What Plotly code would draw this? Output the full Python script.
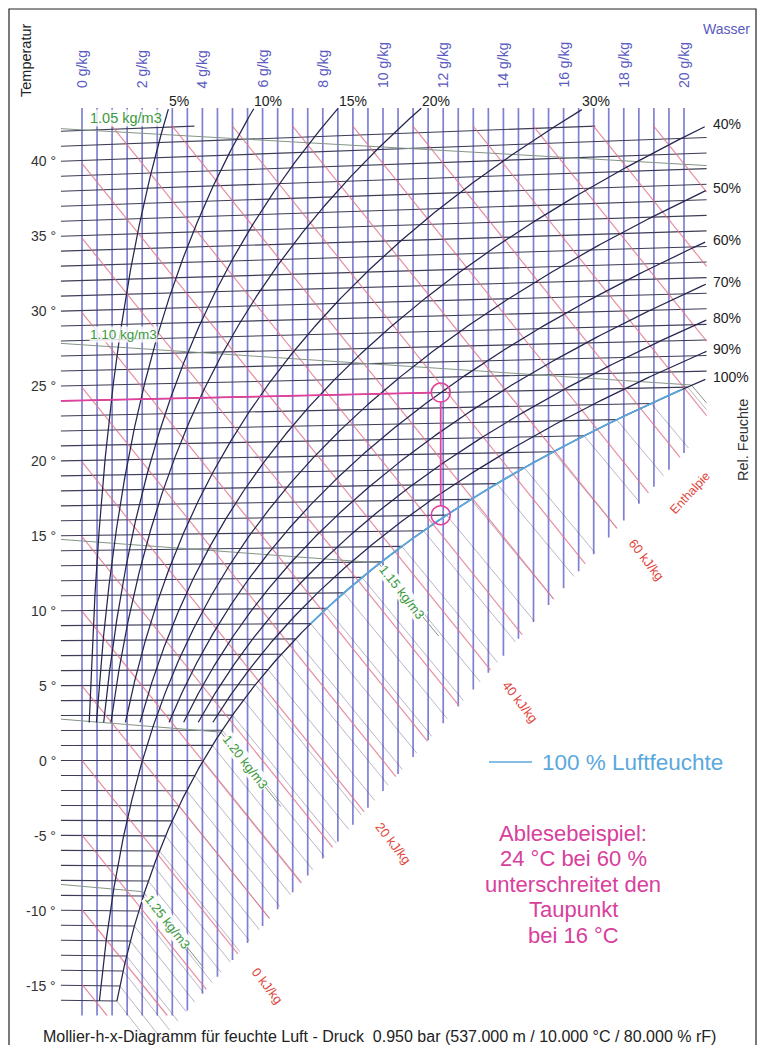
import numpy as np
import plotly.graph_objects as go

# ---- chart definition -------------------------------------------------
P_AIR = 95000.0          # Pa  (0.950 bar)
R_AIR = 287.05

temps_iso = list(range(-16, 43))                  # isotherms, 1 K steps
x_lines = [i * 0.5 for i in range(0, 41)]         # water content lines, g/kg
rh_levels = [5, 10, 15, 20, 30, 40, 50, 60, 70, 80, 90, 100]
rh_full_range = [50, 100]                         # curves drawn down to the bottom
RH_T_MIN = 2.5                                    # other curves stop here, °C
rh_top_labels = [5, 10, 15, 20, 30]
rh_side_labels = [40, 50, 60, 70, 80, 90, 100]
h_levels = list(range(-15, 100, 5))               # kJ/kg
h_labels = [0, 20, 40, 60]
rho_levels = [1.05, 1.10, 1.15, 1.20, 1.25]       # kg/m3
x_ticks = [0, 2, 4, 6, 8, 10, 12, 14, 16, 18, 20]
t_ticks = [40, 35, 30, 25, 20, 15, 10, 5, 0, -5, -10, -15]

X_LEFT, X_RIGHT = -0.7, 20.75     # extent of the line grid, g/kg
Y_TOP = 43.5                       # upper edge of x-lines and rh curves
Y_LINES_TOP = 42.32                # isotherms / isenthalps are cut here
Y_BOTTOM = -17.0
# lower edge of the x-lines and isenthalps inside the fog region
fog_edge_x = [4.02, 20.03]
fog_edge_y = [-15.5, 20.57]
FOG_RHO_LEN = 2.0                  # fog part of the density lines, g/kg
SAT_BLUE_FROM = 9.0                # °C, start of the highlighted 100 % line

example_t, example_rh, dew_t = 24, 60, 16
example_lines = ["Ablesebeispiel:", "24 °C bei 60 %", "unterschreitet den",
                 "Taupunkt", "bei 16 °C"]

# ---- moist air relations (x in g/kg, t in °C, h in kJ/kg) --------------
def p_sat(t):
    t = np.asarray(t, dtype=float)
    return 611.2 * np.exp(17.62 * t / (243.12 + t))

def x_of(t, rh):
    pv = rh / 100.0 * p_sat(t)
    return 622.0 * pv / (P_AIR - pv)

def chart_y(x, t):
    """Mollier ordinate (h - r0*x)/cp_air: the 0 °C isotherm is horizontal."""
    return np.asarray(t) * (1 + 0.00186 * np.asarray(x) / 1.005)

def y_of_h(h, x):
    return (h - 2.501 * np.asarray(x)) / 1.005

def t_of_rho(rho, x):
    xk = np.asarray(x) / 1000.0
    return P_AIR * (1 + xk) / (rho * R_AIR * (1 + 1.608 * xk)) - 273.15

def fog_slope(t):
    return (0.00419 * t - 2.501) / 1.005

edge_m = (fog_edge_y[1] - fog_edge_y[0]) / (fog_edge_x[1] - fog_edge_x[0])

def fog_edge(x):
    return fog_edge_y[0] + edge_m * (np.asarray(x) - fog_edge_x[0])

def meet_edge(x0, y0, m):
    b = fog_edge_y[0] - edge_m * fog_edge_x[0]
    return (y0 - m * x0 - b) / (edge_m - m)

# ---- figure -------------------------------------------------------------
W, H = 758, 1045
px_per_x, px_per_y = 30.1, 15.0
x0_px, y40_px = 82.0, 160.5
x_range = [-x0_px / px_per_x, (W - x0_px) / px_per_x]
y_range = [40 - (H - y40_px) / px_per_y, 40 + y40_px / px_per_y]

def py(pix):       # chart y of a pixel row
    return 40 - (pix - y40_px) / px_per_y

def px(pix):       # chart x of a pixel column
    return (pix - x0_px) / px_per_x

fig = go.Figure()

def add_line(xs, ys, color, width):
    fig.add_trace(go.Scatter(x=list(np.atleast_1d(xs)), y=list(np.atleast_1d(ys)),
                             mode="lines", line=dict(color=color, width=width),
                             hoverinfo="skip", showlegend=False))

C_X = "rgba(100,100,200,0.82)"
C_T = "#3c3c56"
C_FOG = "rgba(80,60,100,0.38)"
C_RH = "#262650"
C_H = "rgba(225,115,135,0.8)"
C_RHO = "#849484"
C_SAT = "#5aa8dc"
C_EX = "#e2409c"
C_GREEN = "#3c9a3c"
C_RED = "#e2463c"
C_BLUE = "#5a5ac0"

# water content lines
for xv in x_lines:
    yb = max(Y_BOTTOM, float(fog_edge(xv)))
    add_line([xv, xv], [Y_TOP, yb], C_X, 1.7)

# isotherms up to saturation, then on as fog isotherms
for t in temps_iso:
    xs_sat = float(x_of(t, 100))
    xe = min(xs_sat, X_RIGHT)
    xx = np.linspace(X_LEFT, xe, 30)
    yy = chart_y(xx, t)
    ok = yy <= Y_LINES_TOP
    add_line(xx[ok], yy[ok], C_T, 1.1)
    if xs_sat < X_RIGHT:
        ys = float(chart_y(xs_sat, t))
        m = fog_slope(t)
        xend = min(meet_edge(xs_sat, ys, m), X_RIGHT)
        if xend > xs_sat:
            add_line([xs_sat, xend], [ys, ys + m * (xend - xs_sat)], C_FOG, 1)

# isenthalps
h_ends = {}
for h in h_levels:
    m = -2.501 / 1.005
    xa = max(0.0, (h - 1.005 * Y_LINES_TOP) / 2.501)
    xb = min(X_RIGHT, meet_edge(0.0, h / 1.005, m))
    yb = float(y_of_h(h, xb))
    if yb < Y_BOTTOM:
        xb = (h - 1.005 * Y_BOTTOM) / 2.501
        yb = Y_BOTTOM
    if xb > xa:
        add_line([xa, xb], [y_of_h(h, xa), yb], C_H, 1.2)
        h_ends[h] = (xb, yb)

# density lines: humid part, then along the fog isotherm
rho_ends = {}
for rho in rho_levels:
    xs = np.linspace(X_LEFT, X_RIGHT, 300)
    ts = t_of_rho(rho, xs)
    unsat = xs <= x_of(ts, 100)
    xu, tu = xs[unsat], ts[unsat]
    add_line(xu, chart_y(xu, tu), C_RHO, 1)
    if unsat.sum() < len(xs):
        xc, tc = float(xu[-1]), float(tu[-1])
        yc = float(chart_y(xc, tc))
        xf = min(xc + FOG_RHO_LEN, X_RIGHT)
        add_line([xc, xf], [yc, yc + fog_slope(tc) * (xf - xc)], C_RHO, 1)
        rho_ends[rho] = (xc, yc, fog_slope(tc))

# relative humidity curves
tt = np.linspace(-16.0, 44.0, 600)
rh_top, rh_right = {}, {}
for rh in rh_levels:
    xs = x_of(tt, rh)
    ys = chart_y(xs, tt)
    ok = (xs <= X_RIGHT) & (ys <= Y_TOP)
    if rh not in rh_full_range:
        ok &= tt >= RH_T_MIN
    add_line(xs[ok], ys[ok], C_RH, 1.25)
    rh_top[rh] = (float(xs[ok][-1]), float(ys[ok][-1]))
    rh_right[rh] = float(ys[ok][-1])

# highlighted saturation line
ts_b = np.linspace(SAT_BLUE_FROM, 26, 120)
xs_b = x_of(ts_b, 100)
ok = xs_b <= 20.0
add_line(xs_b[ok], chart_y(xs_b[ok], ts_b[ok]), C_SAT, 1.8)

# reading example
x_ex = float(x_of(example_t, example_rh))
y_ex = float(chart_y(x_ex, example_t))
y_dew = float(chart_y(x_ex, dew_t))
add_line([X_LEFT, x_ex - 0.3], [chart_y(X_LEFT, example_t), y_ex], C_EX, 1.8)
add_line([x_ex, x_ex], [y_ex - 0.6, y_dew + 0.6], C_EX, 1.8)
fig.add_trace(go.Scatter(x=[x_ex, x_ex], y=[y_ex, y_dew], mode="markers",
                         marker=dict(size=19, color="rgba(0,0,0,0)",
                                     line=dict(color=C_EX, width=1.6)),
                         hoverinfo="skip", showlegend=False))

# legend line for the highlighted saturation curve
add_line([px(489), px(532)], [py(762), py(762)], C_SAT, 1.6)

# ---- texts --------------------------------------------------------------
FONT = "Liberation Sans, Arial, sans-serif"
ann = []

def txt(x, y, s, size, color, angle=0, xa="center", ya="middle", bg=None, ref="data"):
    d = dict(x=x, y=y, text=s, textangle=angle, xanchor=xa, yanchor=ya,
             showarrow=False, font=dict(size=size, color=color, family=FONT))
    if ref == "paper":
        d.update(xref="paper", yref="paper")
    if bg:
        d.update(bgcolor=bg, borderpad=0)
    ann.append(d)

for t in t_ticks:
    txt(px(58), t, f"{t} °", 14, "#333", xa="right")
for xv in x_ticks:
    txt(xv, py(90), f"{xv} g/kg", 14, C_BLUE, angle=-90, ya="bottom")
txt(px(26), py(60), "Temperatur", 14.5, "#222", angle=-90)
txt(px(726), py(29), "Wasser", 14, C_BLUE)
txt(px(743), py(440), "Rel. Feuchte", 14.5, "#333", angle=-90)

for rh in rh_top_labels:
    xt, yt = rh_top[rh]
    txt(xt - 0.05, py(101), f"{rh}%", 14, "#222", xa="left")
for rh in rh_side_labels:
    txt(px(711), rh_right[rh] + 0.15, f"{rh}%", 14, "#222", xa="left")

# density labels
txt(px(89), py(118), "1.05 kg/m3", 14.5, C_GREEN, xa="left", bg="rgba(255,255,255,0.8)")
txt(px(89), py(334), "1.10 kg/m3", 13.5, C_GREEN, xa="left", bg="rgba(255,255,255,0.8)")
for rho in (1.15, 1.20, 1.25):
    xc, yc, m = rho_ends[rho]
    xm = xc + 0.8
    txt(xm, yc + m * 0.8, f"{rho:.2f} kg/m3", 13, C_GREEN, angle=52,
        bg="rgba(255,255,255,0.9)")

# enthalpy labels, set just beyond the line ends
for h in h_labels:
    xb, yb = h_ends[h]
    txt(xb + 0.97, yb - 2.1, f"{h} kJ/kg", 13, C_RED, angle=52)
txt(px(690), py(493), "Enthalpie", 12.5, C_RED, angle=-47)

txt(px(540), py(762), "100 % Luftfeuchte", 22.5, C_SAT, xa="left")
for i, line in enumerate(example_lines):
    txt(px(573), py(833 + 25.5 * i), line, 22, "#d8409c")
txt(0.5, (H - 1036) / H, "Mollier-h-x-Diagramm für feuchte Luft - Druck  0.950 bar "
    "(537.000 m / 10.000 °C / 80.000 % rF)", 16, "#222", ref="paper")

fig.update_layout(
    width=W, height=H, margin=dict(l=0, r=0, t=0, b=0),
    paper_bgcolor="white", plot_bgcolor="white",
    xaxis=dict(range=x_range, visible=False, fixedrange=True),
    yaxis=dict(range=y_range, visible=False, fixedrange=True),
    annotations=ann,
    shapes=[dict(type="rect", xref="paper", yref="paper", x0=9 / W, x1=756 / W,
                 y0=-0.01, y1=1 - 9 / H, line=dict(color="#222", width=1.2))],
)
fig.write_html("out.html")
